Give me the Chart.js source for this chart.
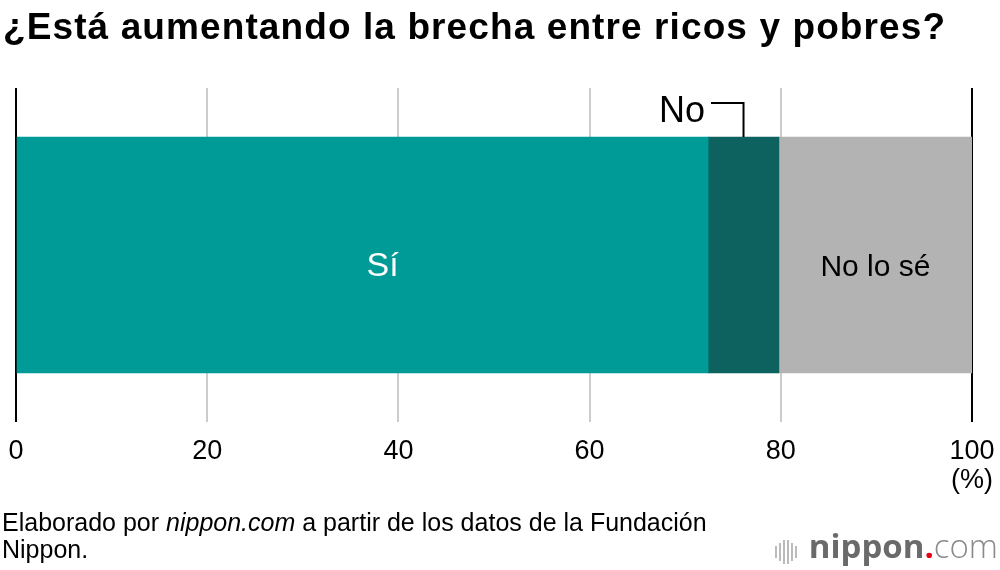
<!DOCTYPE html>
<html><head><meta charset="utf-8">
<script src="https://cdn.jsdelivr.net/npm/chart.js@4.4.0/dist/chart.umd.min.js"></script>
<style>
html,body{margin:0;padding:0;background:#fff;}
#wrap{position:relative;width:1000px;height:570px;overflow:hidden;font-family:"Liberation Sans",Arial,sans-serif;}
#title{position:absolute;left:3px;top:6px;font-size:37px;font-weight:bold;color:#000;white-space:nowrap;letter-spacing:1.1px;}
#foot{position:absolute;left:2px;top:509px;font-size:25px;line-height:27px;color:#000;white-space:nowrap;}
#logo{position:absolute;right:2px;top:526px;font-family:"Open Sans",sans-serif;font-size:33px;line-height:40px;color:#666;white-space:nowrap;}
#logo .b{font-weight:bold;color:#6a6a6a}
#logo .d{color:#e60012;font-weight:bold}
#logo .c{color:#8a8a8a;font-weight:300}
#logo .ic{display:inline-block;vertical-align:middle;margin-right:10px;}
#logo .ic i{display:inline-block;width:2px;background:#bbb;margin-right:2px;vertical-align:middle;}
canvas{position:absolute;left:0;top:0;}
</style></head>
<body><div id="wrap">
<canvas id="c" width="1000" height="570"></canvas>
<div id="title">¿Está aumentando la brecha entre ricos y pobres?</div>
<div id="foot">Elaborado por <i>nippon.com</i> a partir de los datos de la Fundación<br>Nippon.</div>
<div id="logo"><span class="ic"><i style="height:12px"></i><i style="height:18px"></i><i style="height:24px"></i><i style="height:24px"></i><i style="height:18px"></i><i style="height:12px"></i></span><span class="b">nippon</span><span class="d">.</span><span class="c">com</span></div>
</div>
<script>
const categories = ["¿Está aumentando la brecha?"];
const seriesNames = ["Sí", "No", "No lo sé"];
const valuesSi = [72.4];
const valuesNo = [7.4];
const valuesNoSe = [20.2];
const tickValues = [0, 20, 40, 60, 80, 100];
const colors = ["#009b96", "#0d625f", "#b3b3b3"];
const FONT = '"Liberation Sans", Arial, sans-serif';

const labelPlugin = {
  id: 'labels',
  afterDatasetsDraw(chart) {
    const ctx = chart.ctx;
    ctx.save();
    const segs = chart.data.datasets.map((d, i) => chart.getDatasetMeta(i).data[0]);
    // Sí
    let e = segs[0];
    ctx.font = '34px ' + FONT;
    ctx.textAlign = 'center'; ctx.textBaseline = 'middle';
    ctx.fillStyle = '#fff';
    ctx.fillText(seriesNames[0], (e.x + e.base) / 2 + 20, e.y + 12);
    // No lo sé
    e = segs[2];
    ctx.font = '30px ' + FONT;
    ctx.fillStyle = '#000';
    ctx.fillText(seriesNames[2], (e.x + e.base) / 2, e.y + 13);
    // No annotation
    e = segs[1];
    const cx = (e.x + e.base) / 2;
    const top = e.y - e.height / 2;
    ctx.strokeStyle = '#000'; ctx.lineWidth = 2;
    ctx.beginPath();
    ctx.moveTo(711, top - 34); ctx.lineTo(cx, top - 34); ctx.lineTo(cx, top);
    ctx.stroke();
    ctx.font = '36px ' + FONT;
    ctx.textAlign = 'right';
    ctx.fillText(seriesNames[1], 705, top - 25);
    // (%)
    const xs = chart.scales.x;
    ctx.font = '27px ' + FONT;
    ctx.textAlign = 'center';
    ctx.fillText('(%)', xs.getPixelForValue(100), 481);
    ctx.restore();
  }
};

new Chart(document.getElementById('c'), {
  type: 'bar',
  data: {
    labels: categories,
    datasets: [
      { label: seriesNames[0], data: valuesSi, backgroundColor: colors[0] },
      { label: seriesNames[1], data: valuesNo, backgroundColor: colors[1] },
      { label: seriesNames[2], data: valuesNoSe, backgroundColor: colors[2] }
    ]
  },
  options: {
    indexAxis: 'y',
    responsive: false,
    animation: false,
    layout: { padding: { left: 16, right: 28, top: 88, bottom: 0 } },
    datasets: { bar: { barThickness: 236, borderWidth: 0 } },
    plugins: { legend: { display: false }, tooltip: { enabled: false }, title: { display: false } },
    scales: {
      x: {
        stacked: true, min: 0, max: 100,
        afterBuildTicks(s) { s.ticks = tickValues.map(v => ({ value: v })); },
        afterFit(s) { s.height = 148; s.paddingLeft = 0; s.paddingRight = 0; },
        border: { display: false },
        grid: {
          drawTicks: false,
          color: c => (c.tick && (c.tick.value === 0 || c.tick.value === 100)) ? '#000' : '#cccccc',
          lineWidth: 2
        },
        ticks: { color: '#000', font: { size: 27, family: FONT }, padding: 13, maxRotation: 0 }
      },
      y: { stacked: true, display: false, afterFit(s) { s.width = 0; } }
    }
  },
  plugins: [labelPlugin]
});
</script>
</body></html>
